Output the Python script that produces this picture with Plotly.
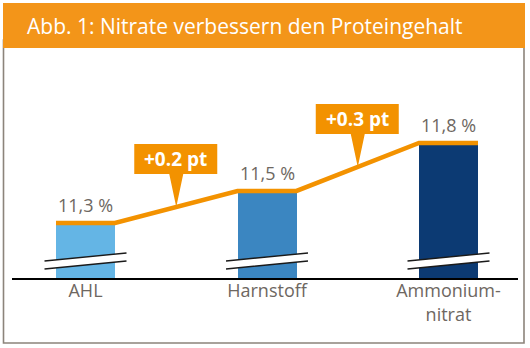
import plotly.graph_objects as go

# ---- data ----
categories = ["AHL", "Harnstoff", "Ammonium-<br>nitrat"]
values = [11.3, 11.5, 11.8]
bar_colors = ["#64B5E5", "#3B86C1", "#0C3A73"]
title_text = "Abb. 1: Nitrate verbessern den Proteingehalt"

W, H = 530, 348
ORANGE = "#F39200"
TITLE_ORANGE = "#F39519"
GRAY_TXT = "#6E6761"
FRAME = "#8C847B"
FONT = "Open Sans"

bar_w = 0.325
y_lo, y_hi = 10.956, 10.956 + 218 / 160
xs = list(range(len(categories)))

fig = go.Figure()
fig.add_trace(go.Bar(x=xs, y=values, width=bar_w, marker=dict(color=bar_colors, line=dict(width=0)),
                     hoverinfo="skip", showlegend=False))

# orange step line across bar tops
lx, ly = [], []
for i, v in zip(xs, values):
    lx += [i - bar_w / 2, i + bar_w / 2]
    ly += [v, v]
fig.add_trace(go.Scatter(x=lx, y=ly, mode="lines", line=dict(color=ORANGE, width=4.5),
                         cliponaxis=False, hoverinfo="skip", showlegend=False))

shapes = []
annotations = []
# frame + title bar
shapes.append(dict(type="rect", xref="paper", yref="paper", x0=3.5 / W, x1=524 / W,
                   y0=1 - 343 / H, y1=1 - 40 / H, line=dict(color=FRAME, width=1.6), layer="below"))
shapes.append(dict(type="rect", xref="paper", yref="paper", x0=3 / W, x1=525 / W,
                   y0=1 - 48 / H, y1=1 - 3 / H, line=dict(width=0), fillcolor=TITLE_ORANGE))
annotations.append(dict(text=title_text, xref="paper", yref="paper", x=25 / W, y=1 - 26 / H,
                        xanchor="left", yanchor="middle", showarrow=False,
                        font=dict(family=FONT, size=21, color="white")))

# break marks
for i in xs:
    shapes.append(dict(type="path", xref="x", yref="y", xsizemode="pixel", ysizemode="pixel",
                       xanchor=i, yanchor=y_lo, path="M -41 9 L 41 17 L 41 25 L -41 17 Z",
                       fillcolor="white", line=dict(width=0)))
    shapes.append(dict(type="path", xref="x", yref="y", xsizemode="pixel", ysizemode="pixel",
                       xanchor=i, yanchor=y_lo, path="M -41 9 L 41 17 M -41 17 L 41 25",
                       line=dict(color="#1a1a1a", width=1.4)))

# value labels
for i, v in zip(xs, values):
    annotations.append(dict(x=i, y=v, text=f"{v:.1f}".replace(".", ",") + " %", showarrow=False,
                            yshift=18, yanchor="middle",
                            font=dict(family=FONT, size=18, color=GRAY_TXT)))

# callouts
for i in range(len(values) - 1):
    mx = i + 0.5
    my = (values[i] + values[i + 1]) / 2
    shapes.append(dict(type="path", xref="x", yref="y", xsizemode="pixel", ysizemode="pixel",
                       xanchor=mx, yanchor=my,
                       path="M 0 0 L -7 33 L -42 33 L -42 63 L 41 63 L 41 33 L 7 33 Z",
                       fillcolor=ORANGE, line=dict(width=0)))
    annotations.append(dict(x=mx, y=my, text=f"<b>+{values[i+1]-values[i]:.1f} pt</b>", showarrow=False,
                            yshift=48, xshift=-0.5, yanchor="middle",
                            font=dict(family=FONT, size=19, color="white")))

fig.update_layout(
    width=W, height=H, margin=dict(l=0, r=0, t=0, b=0),
    paper_bgcolor="white", plot_bgcolor="white",
    shapes=shapes, annotations=annotations, bargap=0,
    xaxis=dict(domain=[12 / W, 518 / W], range=[-0.405, -0.405 + 506 / 181.5],
               tickvals=xs, ticktext=categories, showline=True, linecolor="black", linewidth=1.6,
               showgrid=False, zeroline=False, ticks="", automargin=False, ticklabelstandoff=-4,
               tickfont=dict(family=FONT, size=18, color=GRAY_TXT)),
    yaxis=dict(domain=[1 - 278 / H, 1 - 60 / H], range=[y_lo, y_hi], visible=False,
               showgrid=False, zeroline=False),
)
fig.write_html("out.html")
